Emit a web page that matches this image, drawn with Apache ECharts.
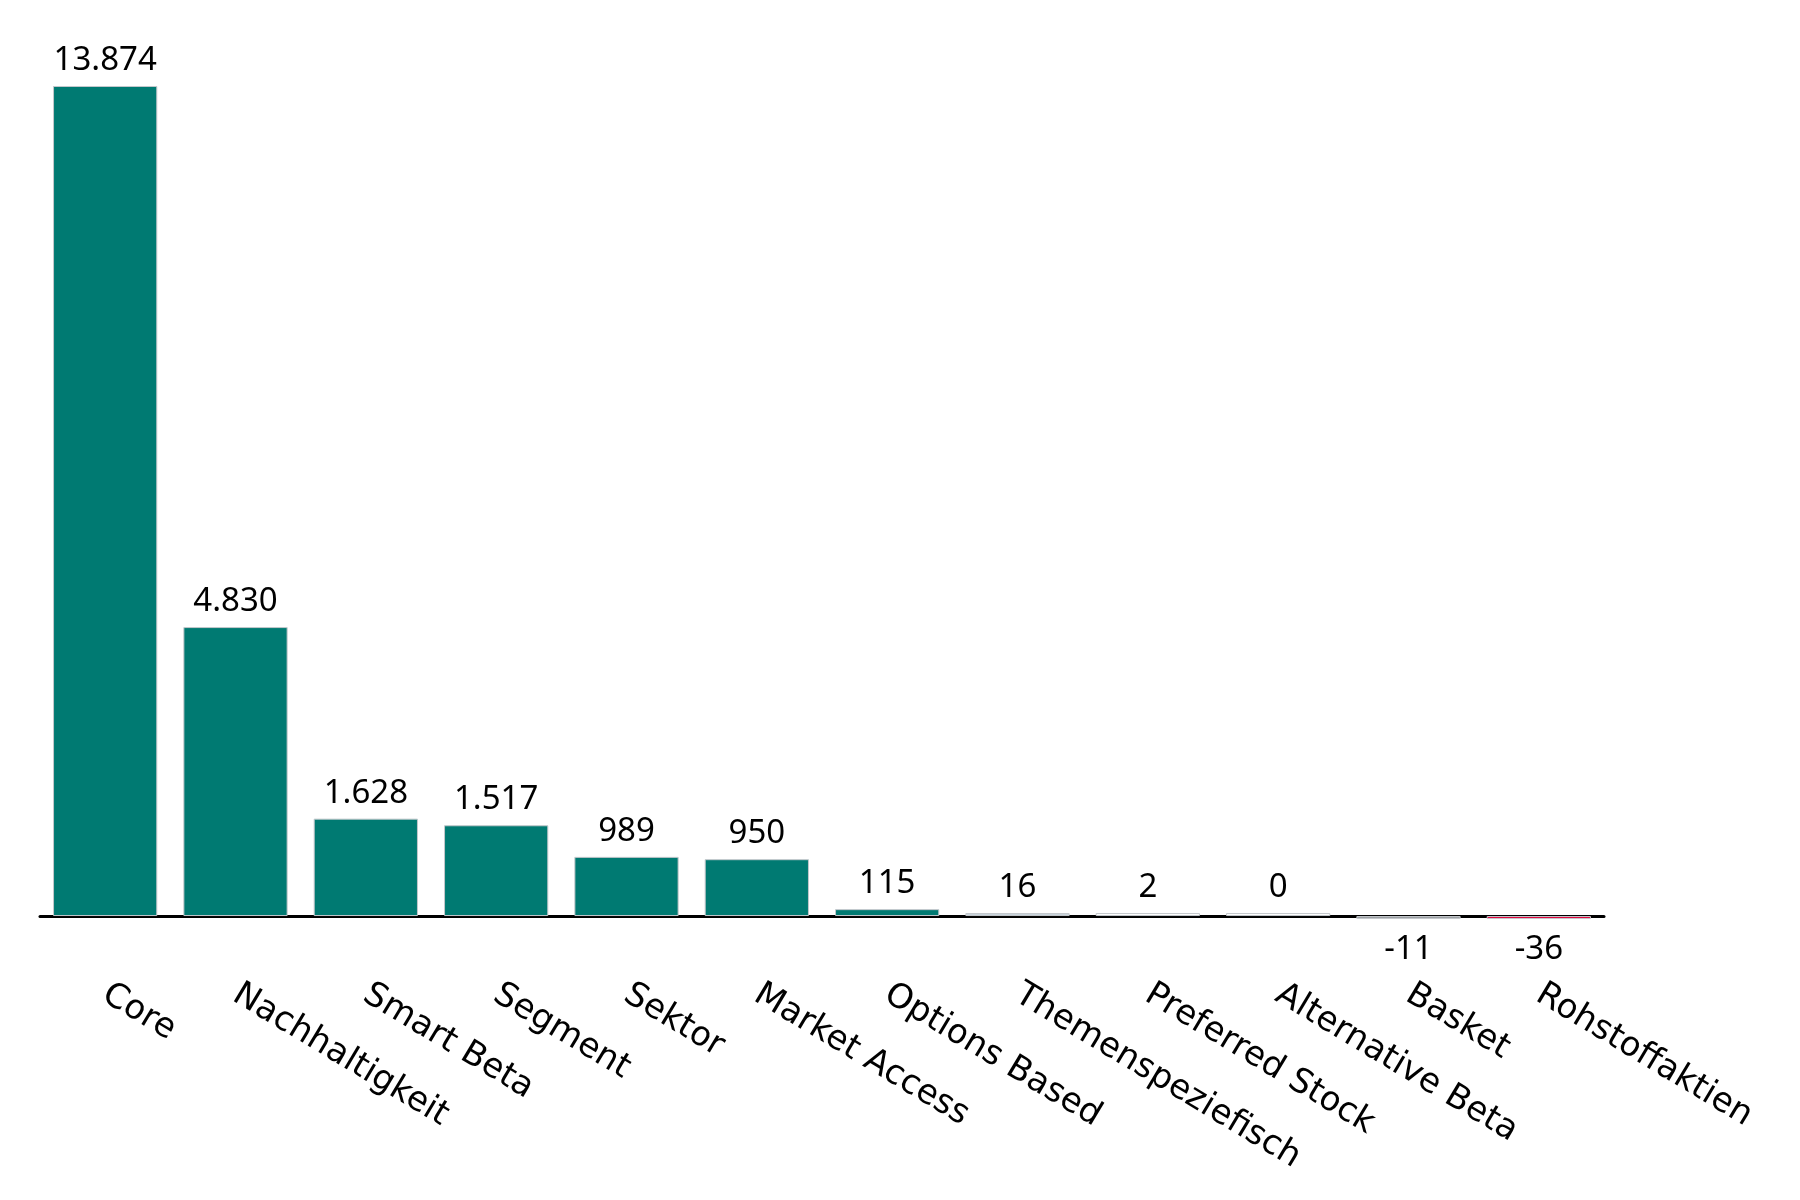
<!DOCTYPE html>
<html><head><meta charset="utf-8">
<script src="https://cdn.jsdelivr.net/npm/echarts@6/dist/echarts.min.js"></script>
<style>html,body{margin:0;padding:0;background:#fff}#c{width:1800px;height:1200px}</style>
</head><body><div id="c"></div>
<script>
const categories = ["Core","Nachhaltigkeit","Smart Beta","Segment","Sektor","Market Access","Options Based","Themenspeziefisch","Preferred Stock","Alternative Beta","Basket","Rohstoffaktien"];
const values = [13874,4830,1628,1517,989,950,115,16,2,0,-11,-36];
const barColors = ["#007a72","#007a72","#007a72","#007a72","#007a72","#007a72","#007a72","#c9d4dc","#ffffff","#ffffff","#9b9ea3","#e4003b"];

function fmt(v){
  const s = Math.abs(v).toString().replace(/\B(?=(\d{3})+(?!\d))/g, ".");
  return (v < 0 ? "-" : "") + s;
}

const data = values.map((v,i)=>({
  value: v,
  itemStyle: {color: barColors[i]},
  label: {position: v < 0 ? 'bottom' : 'top', distance: v < 0 ? 14 : 9}
}));

const chart = echarts.init(document.getElementById('c'));
chart.setOption({
  animation: false,
  grid: {left: 40, right: 196, top: 86, bottom: 1200 - 916 - 12, containLabel: false},
  xAxis: {
    type: 'category',
    data: categories,
    axisLine: {onZero: true, lineStyle: {color: '#000', width: 3}},
    axisTick: {show: false},
    axisLabel: {rotate: -31, margin: 64, color: '#000', fontSize: 34, fontFamily: 'DejaVu Sans', interval: 0}
  },
  yAxis: {
    type: 'value',
    min: -200, max: 13874,
    show: false,
    splitLine: {show: false}
  },
  series: [{
    type: 'bar',
    data: data,
    barCategoryGap: '20%',
    barMinHeight: 3,
    itemStyle: {borderColor: '#c4c8cc', borderWidth: 1},
    label: {show: true, color: '#000', fontSize: 33, fontFamily: 'Noto Sans', formatter: p => fmt(p.value)}
  }]
});
</script></body></html>
